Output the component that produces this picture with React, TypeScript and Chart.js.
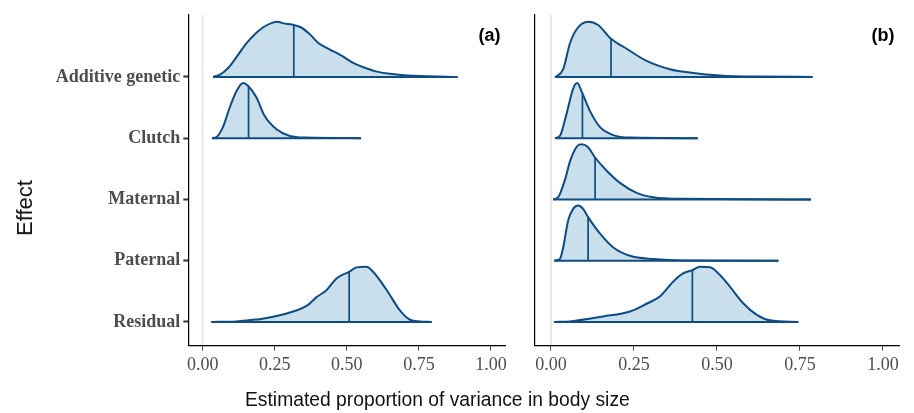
import React, { useEffect, useRef } from "react";
import { Chart, registerables } from "chart.js";

Chart.register(...registerables);

// ---------- data ----------
const categories = ["Additive genetic", "Clutch", "Maternal", "Paternal", "Residual"];
const xTickValues = [0, 0.25, 0.5, 0.75, 1.0];

// Panel (a) — relative posterior densities (peak = 1)
const aAdditiveX = [0.036, 0.06, 0.09, 0.12, 0.15, 0.18, 0.21, 0.24, 0.26, 0.28, 0.31, 0.34, 0.37, 0.4, 0.44, 0.48, 0.52, 0.56, 0.6, 0.65, 0.7, 0.76, 0.884];
const aAdditiveD = [0, 0.04, 0.17, 0.38, 0.6, 0.77, 0.9, 0.98, 1.0, 0.97, 0.95, 0.9, 0.78, 0.62, 0.5, 0.39, 0.26, 0.17, 0.1, 0.055, 0.03, 0.015, 0];
const aAdditiveMedian = 0.316;

const aClutchX = [0.032, 0.048, 0.07, 0.094, 0.117, 0.14, 0.157, 0.186, 0.215, 0.256, 0.302, 0.36, 0.549];
const aClutchD = [0, 0.02, 0.2, 0.56, 0.85, 1.0, 0.95, 0.74, 0.4, 0.16, 0.04, 0.01, 0];
const aClutchMedian = 0.159;

const aResidualX = [0.03, 0.117, 0.175, 0.198, 0.267, 0.36, 0.395, 0.43, 0.464, 0.508, 0.534, 0.568, 0.591, 0.638, 0.684, 0.719, 0.753, 0.794];
const aResidualD = [0, 0.01, 0.04, 0.05, 0.12, 0.29, 0.45, 0.58, 0.79, 0.91, 0.99, 1.0, 0.91, 0.58, 0.21, 0.04, 0.01, 0];
const aResidualMedian = 0.508;

// Panel (b)
const bAdditiveX = [0.012, 0.017, 0.037, 0.057, 0.077, 0.112, 0.142, 0.181, 0.228, 0.288, 0.358, 0.429, 0.509, 0.609, 0.788];
const bAdditiveD = [0, 0.01, 0.14, 0.6, 0.86, 1.0, 0.94, 0.69, 0.51, 0.29, 0.14, 0.07, 0.025, 0.005, 0];
const bAdditiveMedian = 0.181;

const bClutchX = [0.012, 0.027, 0.047, 0.067, 0.079, 0.095, 0.117, 0.148, 0.188, 0.238, 0.442];
const bClutchD = [0, 0.04, 0.44, 0.9, 1.0, 0.81, 0.5, 0.2, 0.055, 0.01, 0];
const bClutchMedian = 0.095;

const bMaternalX = [0.007, 0.022, 0.042, 0.057, 0.067, 0.08, 0.092, 0.111, 0.133, 0.168, 0.208, 0.258, 0.308, 0.389, 0.783];
const bMaternalD = [0, 0.04, 0.35, 0.68, 0.84, 0.97, 1.0, 0.95, 0.76, 0.52, 0.3, 0.12, 0.04, 0.01, 0];
const bMaternalMedian = 0.133;

const bPaternalX = [0.01, 0.027, 0.037, 0.052, 0.067, 0.082, 0.097, 0.112, 0.148, 0.188, 0.238, 0.308, 0.409, 0.685];
const bPaternalD = [0, 0.03, 0.24, 0.73, 0.94, 1.0, 0.94, 0.79, 0.49, 0.24, 0.09, 0.03, 0.005, 0];
const bPaternalMedian = 0.112;

const bResidualX = [0.01, 0.057, 0.158, 0.238, 0.288, 0.328, 0.368, 0.398, 0.426, 0.449, 0.479, 0.509, 0.539, 0.579, 0.62, 0.66, 0.745];
const bResidualD = [0, 0.01, 0.1, 0.19, 0.33, 0.46, 0.73, 0.88, 0.94, 1.0, 0.99, 0.85, 0.64, 0.34, 0.13, 0.03, 0];
const bResidualMedian = 0.426;

type Ridge = { cat: string; xs: number[]; ds: number[]; median: number };

const ridgesA: Ridge[] = [
  { cat: "Additive genetic", xs: aAdditiveX, ds: aAdditiveD, median: aAdditiveMedian },
  { cat: "Clutch", xs: aClutchX, ds: aClutchD, median: aClutchMedian },
  { cat: "Residual", xs: aResidualX, ds: aResidualD, median: aResidualMedian },
];
const ridgesB: Ridge[] = [
  { cat: "Additive genetic", xs: bAdditiveX, ds: bAdditiveD, median: bAdditiveMedian },
  { cat: "Clutch", xs: bClutchX, ds: bClutchD, median: bClutchMedian },
  { cat: "Maternal", xs: bMaternalX, ds: bMaternalD, median: bMaternalMedian },
  { cat: "Paternal", xs: bPaternalX, ds: bPaternalD, median: bPaternalMedian },
  { cat: "Residual", xs: bResidualX, ds: bResidualD, median: bResidualMedian },
];

// ---------- styling ----------
const RIDGE_SCALE = 0.9;
const LINE = "#0f4c81";
const FILL = "rgba(198,221,234,0.95)";
const Y_MIN = 0.614;
const Y_MAX = 6.01;
const X_MIN = -0.05;
const X_MAX = 1.05;

function basePos(cat: string) {
  return categories.length - categories.indexOf(cat);
}

function interp(xs: number[], ds: number[], x: number) {
  for (let i = 0; i < xs.length - 1; i++) {
    if (x >= xs[i] && x <= xs[i + 1]) {
      const t = (x - xs[i]) / (xs[i + 1] - xs[i]);
      return ds[i] + t * (ds[i + 1] - ds[i]);
    }
  }
  return 0;
}

function buildDatasets(ridges: Ridge[]) {
  const sets: any[] = [];
  ridges.forEach((r) => {
    const base = basePos(r.cat);
    sets.push({
      data: r.xs.map((x, i) => ({ x, y: base + r.ds[i] * RIDGE_SCALE })),
      borderColor: LINE,
      borderWidth: 2,
      backgroundColor: FILL,
      fill: { value: base },
      pointRadius: 0,
      cubicInterpolationMode: "monotone",
      order: 2,
    });
    sets.push({
      data: [
        { x: r.xs[0], y: base },
        { x: r.xs[r.xs.length - 1], y: base },
      ],
      borderColor: LINE,
      borderWidth: 2,
      fill: false,
      pointRadius: 0,
      order: 1,
    });
    const h = interp(r.xs, r.ds, r.median);
    sets.push({
      data: [
        { x: r.median, y: base },
        { x: r.median, y: base + h * RIDGE_SCALE },
      ],
      borderColor: LINE,
      borderWidth: 1.7,
      fill: false,
      pointRadius: 0,
      order: 1,
    });
  });
  return sets;
}

const zeroLinePlugin = {
  id: "zeroLine",
  beforeDraw(chart: any) {
    const { ctx, chartArea, scales } = chart;
    const px = scales.x.getPixelForValue(0);
    ctx.save();
    ctx.strokeStyle = "#e3e3e3";
    ctx.lineWidth = 1.6;
    ctx.beginPath();
    ctx.moveTo(px, chartArea.top);
    ctx.lineTo(px, chartArea.bottom);
    ctx.stroke();
    ctx.restore();
  },
};

function panelLabelPlugin(label: string) {
  return {
    id: "panelLabel",
    afterDraw(chart: any) {
      const { ctx, chartArea } = chart;
      ctx.save();
      ctx.font = "bold 18px 'Liberation Sans', Arial, sans-serif";
      ctx.fillStyle = "#000";
      ctx.textAlign = "right";
      ctx.textBaseline = "middle";
      ctx.fillText(label, chartArea.right - 5, chartArea.top + 21);
      ctx.restore();
    },
  };
}

function makeConfig(ridges: Ridge[], showY: boolean, yWidth: number, padRight: number, label: string): any {
  return {
    type: "line",
    data: { datasets: buildDatasets(ridges) },
    options: {
      animation: false,
      responsive: false,
      maintainAspectRatio: false,
      layout: { padding: { left: 0, top: 15, right: padRight, bottom: 0 } },
      plugins: { legend: { display: false }, tooltip: { enabled: false } },
      scales: {
        x: {
          type: "linear",
          min: X_MIN,
          max: X_MAX,
          afterBuildTicks: (s: any) => {
            s.ticks = xTickValues.map((v) => ({ value: v }));
          },
          afterFit: (s: any) => {
            s.height = 413 - 345.6;
          },
          ticks: {
            callback: (v: any) => Number(v).toFixed(2),
            font: { family: "'Liberation Serif', 'Times New Roman', serif", size: 18 },
            color: "#4d4d4d",
            padding: 4,
            maxRotation: 0,
            autoSkip: false,
          },
          grid: { drawOnChartArea: false, drawTicks: true, tickLength: 5, tickColor: "#444", tickWidth: 1 },
          border: { display: true, color: "#000", width: 1.2 },
        },
        y: {
          type: "linear",
          min: Y_MIN,
          max: Y_MAX,
          afterBuildTicks: (s: any) => {
            s.ticks = categories.map((c) => ({ value: basePos(c) }));
          },
          afterFit: (s: any) => {
            s.width = yWidth;
          },
          ticks: {
            display: showY,
            callback: (v: any) => categories[categories.length - Math.round(Number(v))],
            font: { family: "'Liberation Serif', 'Times New Roman', serif", size: 18, weight: "bold" },
            color: "#4d4d4d",
            padding: 3,
            autoSkip: false,
          },
          grid: { display: showY, drawOnChartArea: false, drawTicks: true, tickLength: 5, tickColor: "#333", tickWidth: 2 },
          border: { display: true, color: "#000", width: 1.2 },
        },
      },
    },
    plugins: [zeroLinePlugin, panelLabelPlugin(label)],
  };
}

function Panel(props: { left: number; width: number; ridges: Ridge[]; showY: boolean; yWidth: number; padRight: number; label: string }) {
  const ref = useRef<HTMLCanvasElement | null>(null);
  useEffect(() => {
    if (!ref.current) return;
    const chart = new Chart(ref.current, makeConfig(props.ridges, props.showY, props.yWidth, props.padRight, props.label));
    return () => chart.destroy();
  }, []);
  return (
    <canvas
      ref={ref}
      width={props.width}
      height={413}
      style={{ position: "absolute", left: props.left, top: 0, width: props.width, height: 413 }}
    />
  );
}

export default function App() {
  return (
    <div style={{ position: "fixed", left: 0, top: 0, width: 914, height: 413, background: "#fff", overflow: "hidden" }}>
      <Panel left={0} width={520} ridges={ridgesA} showY={true} yWidth={188.3} padRight={520 - 505.4} label="(a)" />
      <Panel left={520} width={394} ridges={ridgesB} showY={false} yWidth={14.3} padRight={394 - 379.6} label="(b)" />
      <div
        style={{
          position: "absolute",
          left: 24.5,
          top: 208,
          transform: "translate(-50%, -50%) rotate(-90deg)",
          fontFamily: "'Liberation Sans', Arial, sans-serif",
          fontSize: 22,
          color: "#111",
          whiteSpace: "nowrap",
        }}
      >
        Effect
      </div>
      <div
        style={{
          position: "absolute",
          left: 245,
          top: 388,
          fontFamily: "'Liberation Sans', Arial, sans-serif",
          fontSize: 19.3,
          color: "#111",
          whiteSpace: "nowrap",
          lineHeight: "24px",
        }}
      >
        Estimated proportion of variance in body size
      </div>
    </div>
  );
}
